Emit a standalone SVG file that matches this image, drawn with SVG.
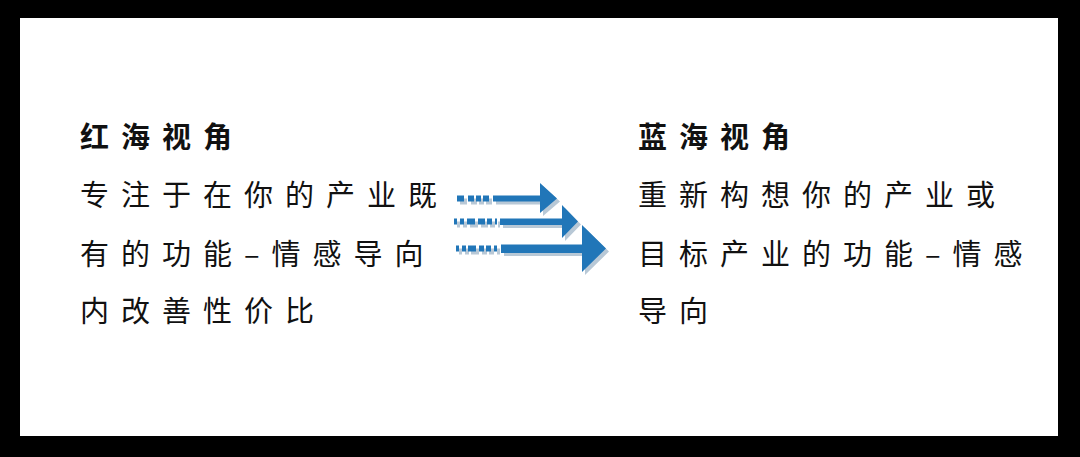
<svg xmlns="http://www.w3.org/2000/svg" width="1080" height="457" viewBox="0 0 1080 457">
<style>
.t{font-family:"Noto Sans CJK SC","Noto Sans",sans-serif;font-size:29px;fill:#111;letter-spacing:12px}
.h{font-weight:bold}
.d1{stroke-dasharray:7 4 6 2 5 2 6 4}
.d2{stroke-dasharray:3 3 4 3 8 3 7 2 5 3}
.d3{stroke-dasharray:3 3 4 2 8 3 5 2 5 3}
</style>
<rect x="0" y="0" width="1080" height="457" fill="#000"/>
<rect x="20" y="18" width="1038" height="418" fill="#fff"/>
<g id="left">
<text class="t h" x="80" y="148">红海视角</text>
<text class="t" x="80" y="206">专注于在你的产业既</text>
<text class="t" x="80" y="265">有的功能–情感导向</text>
<text class="t" x="80" y="322">内改善性价比</text>
</g>
<g id="right">
<text class="t h" x="638" y="148">蓝海视角</text>
<text class="t" x="638" y="206">重新构想你的产业或</text>
<text class="t" x="638" y="265">目标产业的功能–情感</text>
<text class="t" x="638" y="322">导向</text>
</g>
<g id="connectors">
<g fill="#b8c8d6" transform="translate(3,3)">
<path d="M493 195.5 H540 V183 L557 198.5 L540 213 V201.5 H493 Z"/>
<path d="M500 218.5 H562 V205 L578 221.5 L562 238 V225 H500 Z"/>
<path d="M501 244.5 H582 V225 L606 248.5 L582 272 V253 H501 Z"/>
</g>
<g fill="none" stroke="#b8c8d6" stroke-width="6" transform="translate(3,3)">
<line x1="457" y1="198.5" x2="490" y2="198.5" class="d1"/>
<line x1="454" y1="221.5" x2="497" y2="221.5" class="d2"/>
<line x1="456" y1="248.5" x2="498" y2="248.5" class="d3"/>
</g>
<g fill="#2176b8">
<path d="M493 195.5 H540 V183 L557 198.5 L540 213 V201.5 H493 Z"/>
<path d="M500 218.5 H562 V205 L578 221.5 L562 238 V225 H500 Z"/>
<path d="M501 244.5 H582 V225 L606 248.5 L582 272 V253 H501 Z"/>
</g>
<g fill="none" stroke="#2176b8" stroke-width="6">
<line x1="457" y1="198.5" x2="490" y2="198.5" class="d1"/>
<line x1="454" y1="221.5" x2="497" y2="221.5" class="d2"/>
<line x1="456" y1="248.5" x2="498" y2="248.5" class="d3"/>
</g>
</g>
</svg>
